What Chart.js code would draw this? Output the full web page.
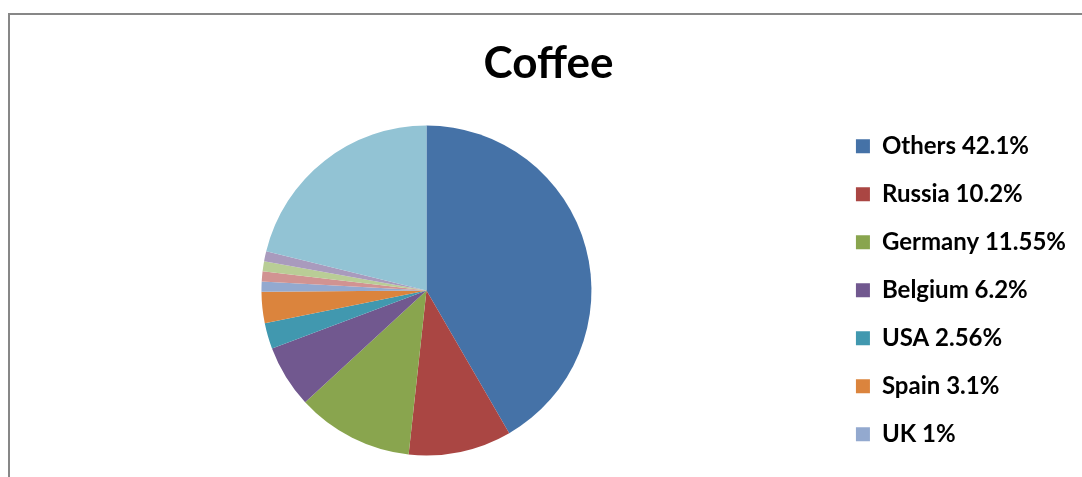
<!DOCTYPE html>
<html>
<head>
<meta charset="utf-8">
<title>Coffee</title>
<script src="https://cdn.jsdelivr.net/npm/chart.js@4.4.0/dist/chart.umd.min.js"></script>
<style>
  html, body { margin: 0; padding: 0; background: #fff; overflow: hidden; }
  body { width: 1082px; height: 477px; position: relative; }
  .frame {
    position: absolute; left: 8px; top: 13px; width: 1200px; height: 600px;
    border-left: 2px solid #878787; border-top: 2px solid #878787;
  }
  #coffeeChart { position: absolute; left: 10px; top: 15px; }
</style>
</head>
<body>
<div class="frame"></div>
<canvas id="coffeeChart" width="1082" height="462"></canvas>
<script>
const countries = ['Others', 'Russia', 'Germany', 'Belgium', 'USA', 'Spain', 'UK', 'Italy', 'France', 'Japan', 'Brazil'];
const shares = [42.1, 10.2, 11.55, 6.2, 2.56, 3.1, 1, 1, 1, 1, 21.4];
const sliceColors = [
  '#4572A7', '#AA4643', '#89A54E', '#71588F', '#4198AF', '#DB843D',
  '#93A9CF', '#D19392', '#B9CD96', '#A99BBD', '#92C3D4'
];
const legendRows = 7; // only the first seven entries fit in the legend box

Chart.defaults.font.family = 'Lato';
Chart.defaults.color = '#000';

const ctx = document.getElementById('coffeeChart').getContext('2d');

new Chart(ctx, {
  type: 'pie',
  data: {
    labels: countries.map((c, i) => `${c} ${shares[i]}%`),
    datasets: [{
      data: shares,
      backgroundColor: sliceColors,
      borderWidth: 0,
      radius: 165
    }]
  },
  options: {
    responsive: false,
    animation: false,
    layout: {
      padding: { left: 11, right: 16, top: 0, bottom: 6.7 }
    },
    plugins: {
      title: {
        display: true,
        text: 'Coffee',
        color: '#000',
        font: { size: 44, weight: 'bold' },
        padding: { top: 22.1, bottom: 20.8 }
      },
      legend: {
        position: 'right',
        align: 'end',
        labels: {
          boxWidth: 14,
          boxHeight: 14,
          padding: 24,
          color: '#000',
          font: { size: 24, weight: 'bold' },
          filter: (item) => item.index < legendRows
        }
      },
      tooltip: { enabled: false }
    }
  }
});
</script>
</body>
</html>
